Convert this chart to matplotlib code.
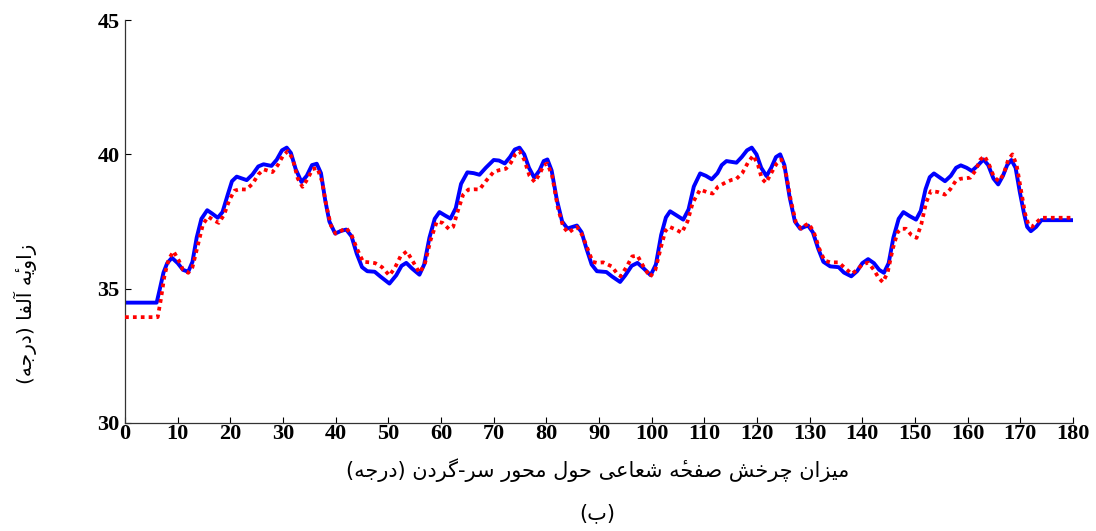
import matplotlib
matplotlib.use("Agg")
import matplotlib.pyplot as plt

# blue solid curve (key points)
x_blue = [0, 6.0, 6.5, 7.3, 8.0, 8.9, 10.0, 11.0, 12.0, 12.8, 13.6, 14.5, 15.6, 16.5, 17.6,
          18.5, 19.5, 20.3, 21.2, 22.2, 23.1, 24.2, 25.3, 26.3, 27.8, 28.8, 29.8, 30.7, 31.5,
          32.4, 33.5, 34.5, 35.5, 36.4, 37.2, 38.0, 38.8, 39.9, 41.0, 42.0, 43.0, 44.0, 45.0,
          46.0, 47.4, 48.5, 50.2, 51.5, 52.5, 53.4, 54.5, 55.9, 56.8, 57.8, 58.8, 59.7, 60.8,
          61.8, 62.8, 63.8, 65.0, 66.2, 67.3, 68.5, 70.0, 71.0, 72.1, 73.1, 74.0, 74.9, 75.8,
          76.7, 77.7, 78.7, 79.5, 80.2, 81.0, 82.0, 83.0, 84.0, 85.0, 85.8, 86.7, 87.6, 88.6,
          89.6, 91.4, 92.5, 94.0, 95.0, 96.2, 97.3, 98.5, 99.8, 100.8, 101.8, 102.7, 103.5,
          104.8, 106.0, 107.0, 108.0, 109.2, 110.3, 111.4, 112.5, 113.3, 114.2, 115.2, 116.1,
          117.1, 118.1, 119.0, 119.9, 120.8, 121.8, 122.7, 123.6, 124.4, 125.2, 126.2, 127.2,
          128.2, 129.0, 129.7, 130.6, 131.6, 132.6, 133.9, 135.5, 136.5, 137.9, 139.0, 140.0,
          141.1, 142.2, 143.2, 144.1, 145.0, 145.9, 146.9, 147.8, 149.0, 150.2, 151.1, 152.0,
          152.8, 153.6, 154.6, 155.7, 156.8, 157.8, 158.7, 159.8, 160.8, 162.0, 163.0, 163.9,
          164.9, 165.8, 166.7, 167.5, 168.3, 169.1, 169.9, 170.7, 171.3, 172.0, 173.0, 174.0, 180]
y_blue = [34.48, 34.48, 34.9, 35.6, 35.95, 36.15, 35.95, 35.7, 35.63, 36.0, 36.9, 37.6, 37.92, 37.8, 37.64,
          37.85, 38.5, 39.0, 39.17, 39.1, 39.04, 39.25, 39.55, 39.63, 39.57, 39.8, 40.15, 40.25, 40.05,
          39.45, 38.97, 39.2, 39.6, 39.65, 39.3, 38.3, 37.5, 37.05, 37.15, 37.2, 36.95, 36.3, 35.8,
          35.65, 35.63, 35.45, 35.19, 35.5, 35.85, 35.96, 35.75, 35.52, 35.9, 36.9, 37.6, 37.85, 37.72,
          37.61, 38.0, 38.9, 39.33, 39.3, 39.24, 39.5, 39.79, 39.77, 39.66, 39.9, 40.18, 40.25, 40.0,
          39.5, 39.13, 39.4, 39.75, 39.81, 39.4, 38.3, 37.5, 37.24, 37.3, 37.35, 37.1, 36.5, 35.9,
          35.65, 35.62, 35.45, 35.25, 35.5, 35.85, 35.96, 35.75, 35.5, 35.9, 37.0, 37.65, 37.88,
          37.72, 37.57, 37.95, 38.8, 39.29, 39.2, 39.07, 39.3, 39.6, 39.75, 39.72, 39.69,
          39.9, 40.15, 40.25, 40.0, 39.5, 39.19, 39.5, 39.9, 40.0, 39.6, 38.4, 37.5,
          37.23, 37.3, 37.35, 37.1, 36.5, 36.0, 35.83, 35.8, 35.6, 35.46, 35.65, 35.95,
          36.1, 35.95, 35.7, 35.59, 35.95, 36.9, 37.6, 37.85, 37.7, 37.57, 37.9, 38.7,
          39.15, 39.29, 39.15, 39.0, 39.2, 39.5, 39.59, 39.5, 39.38, 39.6, 39.81, 39.6,
          39.1, 38.88, 39.2, 39.6, 39.79, 39.5, 38.6, 37.8, 37.3, 37.14, 37.3, 37.55, 37.55]

# red dotted curve
x_red = [0, 6.2, 6.8, 7.5, 8.3, 9.2, 10.2, 11.0, 12.0, 12.8, 13.8, 14.8, 15.8, 16.8, 17.8,
         18.8, 19.8, 20.8, 21.8, 23.0, 24.2, 25.3, 26.3, 28.0, 29.0, 30.0, 30.9, 31.8, 32.8,
         33.7, 34.7, 35.6, 36.5, 37.4, 38.2, 39.1, 40.0, 41.0, 42.0, 43.0, 44.0, 45.2, 46.5,
         47.5, 48.8, 50.2, 51.3, 52.3, 53.5, 54.7, 55.9, 56.9, 58.0, 59.2, 60.3, 61.5, 62.3,
         63.2, 64.2, 65.2, 66.3, 67.3, 68.5, 70.0, 71.2, 72.3, 73.3, 74.1, 74.9, 75.8, 76.8,
         77.8, 78.8, 79.5, 80.2, 81.1, 82.2, 83.2, 84.2, 85.0, 85.8, 86.8, 87.8, 88.8, 89.6,
         90.8, 92.4, 93.3, 94.1, 95.2, 96.3, 97.3, 98.5, 99.7, 100.7, 101.7, 102.6, 103.4,
         104.6, 105.7, 106.8, 107.8, 109.2, 110.4, 111.6, 112.6, 114.2, 115.2, 116.1, 117.2,
         118.3, 119.3, 120.2, 120.9, 121.7, 122.7, 123.7, 124.6, 125.4, 126.4, 127.4, 128.4,
         129.1, 129.8, 130.8, 131.8, 132.8, 133.9, 135.5, 136.5, 138.0, 139.0, 140.0, 141.1,
         142.2, 143.1, 143.9, 144.8, 145.8, 146.7, 147.4, 148.3, 149.3, 150.3, 151.2, 152.1,
         153.0, 154.3, 155.7, 156.7, 157.7, 158.6, 160.5, 161.5, 162.4, 163.2, 164.1, 165.0,
         166.0, 166.9, 167.7, 168.5, 169.3, 170.1, 170.9, 171.5, 172.2, 173.0, 174.0, 180]
y_red = [33.94, 33.94, 34.6, 35.5, 36.1, 36.39, 36.05, 35.7, 35.59, 35.8, 36.6, 37.4, 37.68, 37.55, 37.45,
         37.75, 38.3, 38.65, 38.7, 38.69, 38.9, 39.25, 39.44, 39.34, 39.6, 39.95, 40.12, 39.85, 39.1,
         38.79, 39.1, 39.45, 39.5, 39.0, 38.1, 37.35, 37.05, 37.15, 37.26, 37.0, 36.5, 36.0, 35.98,
         35.95, 35.8, 35.49, 35.8, 36.2, 36.39, 36.0, 35.59, 35.9, 36.8, 37.5, 37.45, 37.22, 37.3,
         37.9, 38.5, 38.69, 38.7, 38.69, 39.0, 39.35, 39.42, 39.46, 39.7, 40.0, 40.12, 39.8, 39.2,
         38.97, 39.3, 39.6, 39.66, 39.2, 38.0, 37.3, 37.08, 37.2, 37.3, 37.0, 36.5, 36.0, 35.96,
         35.98, 35.83, 35.6, 35.46, 35.8, 36.2, 36.23, 35.8, 35.44, 35.7, 36.5, 37.15, 37.3,
         37.2, 37.08, 37.5, 38.2, 38.69, 38.6, 38.54, 38.8, 38.97, 39.05, 39.09, 39.3,
         39.7, 39.96, 39.6, 39.1, 38.94, 39.3, 39.65, 39.81, 39.4, 38.3, 37.45, 37.23,
         37.35, 37.43, 37.1, 36.5, 36.05, 35.98, 35.98, 35.8, 35.55, 35.7, 35.9, 35.97,
         35.7, 35.4, 35.24, 35.6, 36.5, 37.1, 37.23, 37.23, 37.0, 36.89, 37.4, 38.2,
         38.63, 38.6, 38.5, 38.7, 39.0, 39.09, 39.13, 39.4, 39.8, 39.94, 39.6, 39.15,
         39.0, 39.3, 39.8, 40.0, 39.6, 38.7, 37.8, 37.4, 37.3, 37.45, 37.64, 37.64]

x_ticks = list(range(0, 181, 10))
y_ticks = [30, 35, 40, 45]

xlabel_fa = "میزان چرخش صفحهٔ شعاعی حول محور سر-گردن (درجه)"
ylabel_fa = "زاویهٔ آلفا (درجه)"
caption_fa = "(ب)"

# presentation forms: isolated, final, initial, medial (None -> joins only on the right)
FORMS = {
    "ا": (0xFE8D, 0xFE8E, None, None), "آ": (0xFE81, 0xFE82, None, None),
    "ب": (0xFE8F, 0xFE90, 0xFE91, 0xFE92), "ج": (0xFE9D, 0xFE9E, 0xFE9F, 0xFEA0),
    "ح": (0xFEA1, 0xFEA2, 0xFEA3, 0xFEA4), "خ": (0xFEA5, 0xFEA6, 0xFEA7, 0xFEA8),
    "د": (0xFEA9, 0xFEAA, None, None), "ر": (0xFEAD, 0xFEAE, None, None),
    "ز": (0xFEAF, 0xFEB0, None, None), "س": (0xFEB1, 0xFEB2, 0xFEB3, 0xFEB4),
    "ش": (0xFEB5, 0xFEB6, 0xFEB7, 0xFEB8), "ص": (0xFEB9, 0xFEBA, 0xFEBB, 0xFEBC),
    "ع": (0xFEC9, 0xFECA, 0xFECB, 0xFECC), "ف": (0xFED1, 0xFED2, 0xFED3, 0xFED4),
    "ل": (0xFEDD, 0xFEDE, 0xFEDF, 0xFEE0), "م": (0xFEE1, 0xFEE2, 0xFEE3, 0xFEE4),
    "ن": (0xFEE5, 0xFEE6, 0xFEE7, 0xFEE8), "ه": (0xFEE9, 0xFEEA, 0xFEEB, 0xFEEC),
    "و": (0xFEED, 0xFEEE, None, None), "ی": (0xFBFC, 0xFBFD, 0xFBFE, 0xFBFF),
    "چ": (0xFB7A, 0xFB7B, 0xFB7C, 0xFB7D), "گ": (0xFB92, 0xFB93, 0xFB94, 0xFB95),
}
MARKS = {"\u0654"}
MIRROR = {"(": ")", ")": "("}


def shape_rtl(text):
    # join letters into their contextual forms, then lay the line out left to right
    clusters = []
    for ch in text:
        if ch in MARKS and clusters:
            clusters[-1][1].append(ch)
        else:
            clusters.append([ch, []])
    out = []
    for i, (ch, marks) in enumerate(clusters):
        form = ch
        if ch in FORMS:
            prev = clusters[i - 1][0] if i > 0 else None
            nxt = clusters[i + 1][0] if i + 1 < len(clusters) else None
            join_prev = prev in FORMS and FORMS[prev][2] is not None
            join_next = FORMS[ch][2] is not None and nxt in FORMS
            f = FORMS[ch]
            if join_prev and join_next:
                code = f[3]
            elif join_prev:
                code = f[1]
            elif join_next:
                code = f[2]
            else:
                code = f[0]
            form = chr(code)
        form = MIRROR.get(form, form)
        out.append(form + "".join(marks))
    return "".join(reversed(out))


plt.rcParams["font.family"] = ["Liberation Serif", "DejaVu Serif"]

fig = plt.figure(figsize=(10.96, 5.31), dpi=100)
ax = fig.add_axes([0.1141, 0.2034, 0.8649, 0.7589])

ax.plot(x_blue, y_blue, color="#0000ff", lw=2.8, solid_joinstyle="round", zorder=2)
ax.plot(x_red, y_red, color="#ff0000", lw=2.7, dashes=(1, 1.1), zorder=3)

ax.set_xlim(0, 180)
ax.set_ylim(30, 45)
ax.set_xticks(x_ticks)
ax.set_yticks(y_ticks)
for lab in ax.get_xticklabels() + ax.get_yticklabels():
    lab.set_fontweight("bold")
    lab.set_fontsize(16)
ax.tick_params(direction="in", length=4, width=0.8, color="black")
ax.tick_params(axis="x", pad=1)
ax.tick_params(axis="y", pad=4)
ax.spines["top"].set_visible(False)
ax.spines["right"].set_visible(False)
for s in ("left", "bottom"):
    ax.spines[s].set_linewidth(0.9)
    ax.spines[s].set_color("#333333")

fig.text(0.545, 1 - 470 / 531, shape_rtl(xlabel_fa), family="DejaVu Sans", fontsize=15,
         ha="center", va="center")
fig.text(0.545, 1 - 513 / 531, shape_rtl(caption_fa), family="DejaVu Sans", fontsize=15,
         ha="center", va="center")
fig.text(25 / 1096, 1 - 314 / 531, shape_rtl(ylabel_fa), family="DejaVu Sans", fontsize=14.5,
         ha="center", va="center", rotation=90)

fig.savefig("out.png", dpi=100)
